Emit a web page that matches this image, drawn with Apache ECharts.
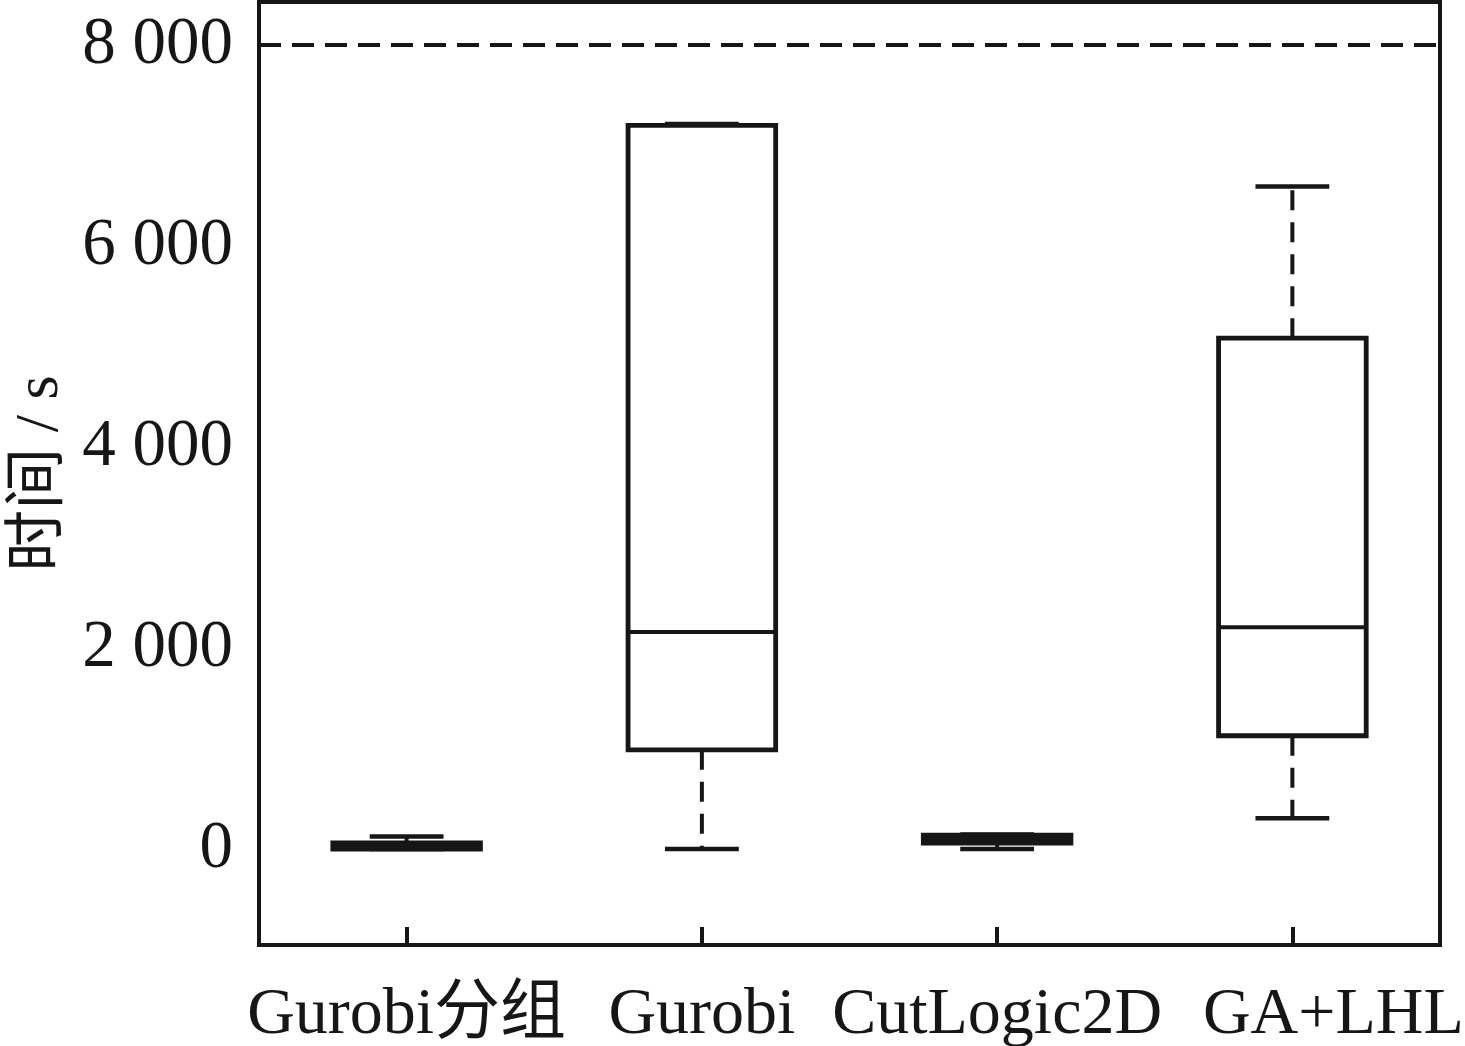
<!DOCTYPE html>
<html>
<head>
<meta charset="utf-8">
<script src="https://cdn.jsdelivr.net/npm/echarts@6/dist/echarts.min.js"></script>
<style>html,body{margin:0;padding:0;background:#fff}#c{width:1465px;height:1046px}</style>
</head>
<body>
<div id="c"></div>
<script>
var categories = ['Gurobi分组', 'Gurobi', 'CutLogic2D', 'GA+LHL'];
var minVals    = [0,    0,    0,   305];
var q1Vals     = [0,    987,  60,  1127];
var medianVals = [30,   2159, 100, 2206];
var q3Vals     = [60,   7200, 139, 5083];
var maxVals    = [124,  7215, 145, 6592];
var yTickValues = [0, 2000, 4000, 6000, 8000];
var limitValue = 8000;

var INK = '#161616';
var FONT = '"Liberation Serif", "Times New Roman", "Noto Sans CJK SC", serif';

var seriesData = categories.map(function (c, i) {
  return [i, minVals[i], q1Vals[i], medianVals[i], q3Vals[i], maxVals[i]];
});

var categoryItems = categories.map(function (c, i) {
  return i === 3 ? {value: c, textStyle: {padding: [0, 0, 0, 82]}} : c;
});

function renderItem(params, api) {
  var idx = api.value(0);
  var band = api.size([1, 0])[0];
  var boxW = band * 0.5;
  var capW = band * 0.25;
  var pMin = api.coord([idx, api.value(1)]);
  var pQ1 = api.coord([idx, api.value(2)]);
  var pMed = api.coord([idx, api.value(3)]);
  var pQ3 = api.coord([idx, api.value(4)]);
  var pMax = api.coord([idx, api.value(5)]);
  var cx = pMed[0];
  var dashStyle = {stroke: INK, lineWidth: 4, lineDash: [20, 12], fill: null};
  var solid = {stroke: INK, lineWidth: 4.5, fill: null};
  return {
    type: 'group',
    children: [
      {type: 'line', shape: {x1: cx, y1: pQ3[1], x2: cx, y2: pMax[1]}, style: dashStyle},
      {type: 'line', shape: {x1: cx, y1: pQ1[1], x2: cx, y2: pMin[1]}, style: dashStyle},
      {type: 'line', shape: {x1: cx - capW / 2, y1: pMax[1], x2: cx + capW / 2, y2: pMax[1]}, style: solid},
      {type: 'line', shape: {x1: cx - capW / 2, y1: pMin[1], x2: cx + capW / 2, y2: pMin[1]}, style: solid},
      {type: 'rect', shape: {x: cx - boxW / 2, y: pQ3[1], width: boxW, height: pQ1[1] - pQ3[1]},
        style: {stroke: INK, lineWidth: 4.8, fill: '#fff'}},
      {type: 'line', shape: {x1: cx - boxW / 2, y1: pMed[1], x2: cx + boxW / 2, y2: pMed[1]}, style: {stroke: INK, lineWidth: 4}}
    ]
  };
}

var chart = echarts.init(document.getElementById('c'), null, {renderer: 'canvas'});
chart.setOption({
  backgroundColor: '#fff',
  animation: false,
  grid: {left: 259, right: 25, top: 2, bottom: 101, containLabel: false, outerBoundsMode: 'none',
    show: true, borderColor: INK, borderWidth: 4, backgroundColor: 'transparent'},
  xAxis: {
    type: 'category',
    data: categoryItems,
    boundaryGap: true,
    axisLine: {show: true, onZero: false, lineStyle: {color: INK, width: 4}},
    axisTick: {show: true, inside: true, alignWithLabel: true, length: 18, lineStyle: {color: INK, width: 4}},
    axisLabel: {color: INK, fontFamily: FONT, fontSize: 66, margin: 38, interval: 0},
    splitLine: {show: false}
  },
  yAxis: {
    type: 'value',
    min: -955,
    max: 8428,
    name: '时间 / s',
    nameLocation: 'middle',
    nameGap: 186,
    nameTextStyle: {color: INK, fontFamily: FONT, fontSize: 62},
    axisLine: {show: true, lineStyle: {color: INK, width: 4}},
    axisTick: {show: false},
    splitLine: {show: false},
    axisLabel: {
      customValues: yTickValues,
      color: INK, fontFamily: FONT, fontSize: 67, margin: 26,
      formatter: function (v) {
        var s = String(Math.round(v));
        return s.length > 3 ? s.slice(0, s.length - 3) + ' ' + s.slice(-3) : s;
      }
    }
  },
  series: [{
    type: 'custom',
    renderItem: renderItem,
    data: seriesData,
    encode: {x: 0, y: [1, 2, 3, 4, 5]},
    clip: false,
    silent: true,
    markLine: {
      silent: true,
      symbol: 'none',
      label: {show: false},
      lineStyle: {color: INK, width: 4, type: [22, 11]},
      data: [{yAxis: limitValue}]
    }
  }]
});
</script>
</body>
</html>
